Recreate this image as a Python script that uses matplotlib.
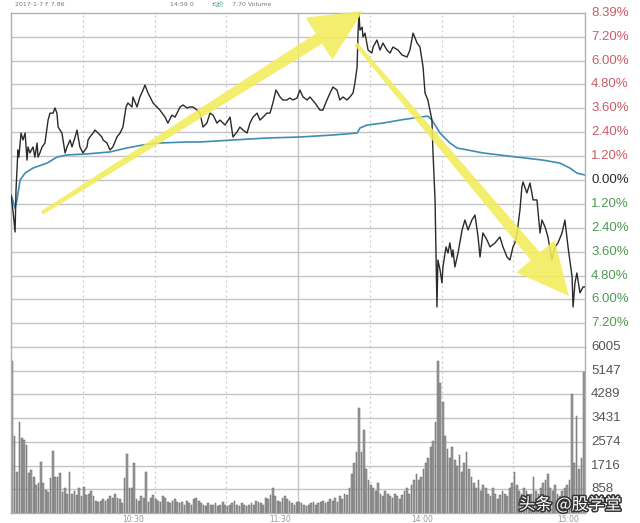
import matplotlib
matplotlib.use("Agg")
import matplotlib.pyplot as plt
import matplotlib.patheffects as pe
from matplotlib.patches import Polygon
import numpy as np

# ---------------- data ----------------
price_t = [0, 0.8, 1.7, 2.1, 2.9, 3.3, 4.2, 5.0, 5.9, 6.7,
           7.1, 7.9, 9.2, 10.0, 10.9, 11.3, 12.1, 13.0, 14.2, 15.5,
           16.3, 17.6, 18.4, 19.2, 19.7, 21.3, 22.6, 23.4, 24.7, 25.5,
           26.8, 27.6, 28.8, 30.1, 31.8, 32.2, 33.0, 34.3, 35.1, 36.4,
           38.0, 38.5, 40.1, 41.4, 42.6, 44.3, 45.6, 46.8, 48.1, 48.9,
           50.6, 51.0, 52.7, 53.9, 55.2, 56.0, 57.3, 59.4, 61.0, 62.3,
           64.4, 65.6, 67.3, 68.6, 70.7, 71.9, 73.6, 74.8, 76.1, 77.8,
           79.0, 80.3, 81.9, 83.2, 84.5, 86.1, 87.4, 89.5, 91.6, 92.8,
           94.5, 95.7, 97.0, 98.7, 99.9, 101.2, 102.9, 104.1, 105.4, 107.0,
           108.3, 109.5, 110.8, 112.5, 113.7, 115.4, 116.6, 117.9, 119.6, 120.8,
           122.1, 123.8, 125.0, 127.1, 129.2, 130.4, 132.1, 133.4, 134.6, 136.3,
           137.5, 138.8, 140.5, 141.7, 143.0, 143.8, 144.7, 145.1, 145.5, 145.9,
           146.8, 147.2, 148.0, 149.3, 150.9, 151.4, 153.0, 154.3, 155.5, 157.2,
           158.5, 159.7, 161.8, 163.5, 165.6, 166.8, 168.1, 169.8, 171.0, 172.3,
           173.1, 174.3, 176.0, 176.4, 177.3, 178.1, 178.5, 179.4, 180.2, 180.6,
           181.9, 182.7, 183.5, 184.4, 184.8, 185.6, 186.9, 188.6, 189.8, 191.1,
           192.7, 194.0, 195.3, 196.1, 197.3, 199.0, 200.3, 202.4, 204.4, 205.7,
           207.4, 208.6, 209.9, 210.7, 211.6, 212.8, 213.6, 214.1, 215.7, 217.0,
           218.3, 219.9, 221.2, 222.0, 223.3, 224.5, 226.2, 227.5, 228.7, 230.4,
           231.6, 232.9, 234.6, 235.0, 235.8, 236.6, 237.9, 239.2, 240.0]

price_pct = [-0.75, -1.51, -2.61, -0.50, 1.51, 1.15, 2.36, 2.01, 2.36, 1.00,
             1.66, 1.36, 1.66, 1.15, 1.86, 1.15, 1.36, 1.66, 1.86, 3.01,
             3.36, 3.36, 3.62, 3.36, 2.66, 2.36, 1.36, 1.66, 2.01, 1.66,
             2.16, 2.51, 1.66, 1.36, 1.66, 2.01, 2.16, 2.36, 2.51, 2.36,
             2.16, 2.01, 1.86, 1.51, 1.66, 2.16, 2.36, 2.66, 3.67, 3.87,
             3.67, 4.17, 3.67, 4.17, 4.52, 4.77, 4.37, 3.87, 3.67, 3.51,
             3.16, 2.86, 3.26, 3.16, 3.67, 3.77, 3.62, 3.67, 3.67, 3.51,
             3.36, 2.66, 2.86, 3.36, 3.26, 2.86, 3.01, 2.76, 3.16, 2.16,
             2.41, 2.66, 2.51, 2.36, 2.86, 3.16, 3.36, 3.01, 3.16, 3.36,
             3.36, 3.87, 4.52, 4.17, 4.02, 4.02, 4.12, 4.02, 4.12, 4.52,
             4.17, 4.02, 4.17, 3.87, 3.51, 3.51, 4.02, 4.37, 4.67, 4.52,
             4.02, 4.17, 4.02, 4.17, 4.37, 4.87, 5.67, 7.38, 8.39, 7.53,
             7.68, 7.18, 7.38, 6.53, 6.38, 6.68, 7.03, 6.53, 6.88, 6.53,
             6.38, 6.68, 6.53, 6.28, 6.18, 6.53, 7.38, 6.88, 6.68, 5.67,
             4.37, 4.02, 3.01, 1.51, -1.00, -6.38, -4.02, -4.52, -5.17, -4.37,
             -3.36, -3.67, -3.16, -3.87, -3.51, -4.37, -3.67, -2.51, -2.01, -2.51,
             -2.01, -1.76, -2.86, -3.87, -2.66, -3.01, -3.36, -3.16, -2.86, -3.36,
             -3.87, -4.02, -3.36, -3.16, -2.66, -1.51, -0.35, -0.10, -0.65, -0.15,
             -1.00, -1.00, -2.66, -2.01, -2.36, -2.86, -4.02, -3.36, -3.16, -2.66,
             -2.01, -3.36, -4.87, -6.38, -5.17, -4.67, -5.67, -5.37, -5.37]

avg_t = [0.4, 1.7, 2.5, 3.8, 5.9, 9.2, 15.1, 19.2, 23.4, 31.8,
         41.4, 48.5, 55.2, 62.3, 73.6, 79.0, 92.8, 107.0, 120.8, 134.6,
         144.7, 145.9, 148.8, 155.5, 162.6, 171.0, 174.3, 176.0, 179.4, 183.5,
         186.5, 197.3, 211.6, 222.4, 229.5, 233.7, 236.6, 240.0]
avg_pct = [-0.85, -1.41, -1.00, 0.00, 0.35, 0.60, 0.85, 1.15, 1.26, 1.31,
           1.41, 1.61, 1.76, 1.86, 1.91, 1.91, 2.01, 2.11, 2.16, 2.26,
           2.36, 2.61, 2.76, 2.86, 3.01, 3.16, 3.21, 3.01, 2.36, 1.86,
           1.61, 1.36, 1.15, 1.00, 0.85, 0.60, 0.35, 0.25]

volume = [5500, 2800, 1500, 3300, 2700, 2650, 2450, 1450, 1550, 1300,
          1000, 1100, 1850, 1100, 850, 750, 1250, 2250, 1300, 1300,
          1450, 750, 900, 700, 1480, 700, 800, 650, 900, 600,
          950, 650, 700, 800, 600, 450, 400, 420, 500, 450,
          500, 600, 550, 700, 550, 500, 350, 1250, 2150, 900,
          900, 1800, 500, 450, 600, 550, 1470, 400, 550, 650,
          500, 450, 400, 600, 550, 400, 350, 450, 500, 400,
          350, 400, 300, 450, 350, 300, 500, 550, 450, 350,
          300, 250, 350, 300, 280, 350, 250, 300, 400, 300,
          250, 300, 350, 450, 300, 250, 350, 300, 250, 300,
          350, 300, 450, 400, 350, 300, 550, 500, 650, 900,
          600, 450, 400, 550, 600, 500, 450, 350, 300, 400,
          400, 350, 300, 250, 300, 350, 400, 300, 350, 400,
          450, 350, 400, 500, 450, 550, 400, 600, 500, 700,
          650, 900, 1400, 1800, 2200, 3800, 2200, 3000, 1600, 1200,
          1000, 900, 800, 1100, 700, 600, 800, 700, 600, 550,
          700, 600, 500, 650, 800, 900, 700, 1000, 1200, 1400,
          1200, 1300, 1600, 1800, 2000, 2400, 2600, 3300, 5500, 4700,
          4000, 2800, 2300, 2000, 2400, 1900, 1700, 2100, 1500, 1800,
          2200, 1600, 1300, 1100, 900, 1200, 800, 1000, 900, 700,
          600, 900, 700, 500, 650, 800, 700, 600, 900, 1100,
          1500, 1000, 800, 700, 900, 800, 600, 700, 1300, 800,
          700, 900, 1100, 1200, 1400, 900, 800, 1000, 700, 600,
          800, 900, 1000, 1200, 4300, 1800, 3500, 1600, 2000, 5100]

pct_ticks = [8.39, 7.20, 6.00, 4.80, 3.60, 2.40, 1.20, 0.00,
             -1.20, -2.40, -3.60, -4.80, -6.00, -7.20]
pct_labels = ["8.39%", "7.20%", "6.00%", "4.80%", "3.60%", "2.40%", "1.20%", "0.00%",
              "1.20%", "2.40%", "3.60%", "4.80%", "6.00%", "7.20%"]
vol_ticks = [858, 1716, 2574, 3431, 4289, 5147, 6005]
vol_labels = ["858", "1716", "2574", "3431", "4289", "5147", "6005"]
time_labels = ["10:30", "11:30", "14:00", "15:00"]

# ---------------- figure ----------------
W, H = 640, 523
fig = plt.figure(figsize=(6.4, 5.23), dpi=100)
fig.patch.set_facecolor("white")

def rect(x0, y0, x1, y1):
    return [x0 / W, 1 - y1 / H, (x1 - x0) / W, (y1 - y0) / H]

axp = fig.add_axes(rect(11, 13, 585, 347))
axv = fig.add_axes(rect(11, 347, 585, 513))

grid_c = "#c4c4c4"
for ax in (axp, axv):
    ax.set_xlim(0, 240)
    ax.set_xticks([])
    ax.set_yticks([])
    for s in ax.spines.values():
        s.set_color("#b0b0b0")
        s.set_linewidth(1.0)
    for m in (30, 60, 90, 150, 180, 210):
        ax.axvline(m, color="#c8c8c8", lw=0.9, ls=(0, (1.5, 2.5)), zorder=0)
    ax.axvline(120, color="#c4c4c4", lw=1.0, zorder=0)

axv.spines["top"].set_visible(False)

# price panel
axp.set_ylim(-8.39, 8.39)
for v in pct_ticks[1:]:
    axp.axhline(v, color=grid_c, lw=1.0, zorder=0)
axp.plot(avg_t, avg_pct, color="#3e8db3", lw=1.2, zorder=2)
axp.plot(price_t, price_pct, color="#2a2a2a", lw=1.0, zorder=3)

tr = axp.get_yaxis_transform()
for v, lab in zip(pct_ticks, pct_labels):
    if v > 0:
        c = "#cf5b66"
    elif v < 0:
        c = "#4f9a55"
    else:
        c = "#2a2a2a"
    axp.text(1.0 + 6 / 574, v, lab, transform=tr, color=c, fontsize=9.5,
             family="Liberation Sans", va="center", ha="left", clip_on=False)

# volume panel
axv.set_ylim(0, 6005)
for v in vol_ticks:
    axv.axhline(v, color=grid_c, lw=1.0, zorder=0)
axv.bar(np.arange(len(volume)) + 0.5, volume, width=0.72, color="#9c9c9c",
        edgecolor="#666666", linewidth=0.35, zorder=2)
trv = axv.get_yaxis_transform()
for v, lab in zip(vol_ticks, vol_labels):
    axv.text(1.0 + 6 / 574, v, lab, transform=trv, color="#555555", fontsize=9.5,
             family="Liberation Sans", va="center", ha="left", clip_on=False)

# header (tiny, blurry in the original)
fig.text(15 / W, 1 - 5 / H, "2017-1-7 F 7.86", fontsize=4.5, color="#777777", va="center")
fig.text(170 / W, 1 - 5 / H, "14:59 0", fontsize=4.5, color="#777777", va="center")
fig.text(212 / W, 1 - 5 / H, "均价", fontsize=4.5, color="#3aa07a", va="center",
         family=["Noto Sans CJK SC", "DejaVu Sans"])
fig.text(232 / W, 1 - 5 / H, "7.70 Volume", fontsize=4.5, color="#777777", va="center")

# bottom time labels (small, at the lower edge)
for xpix, lab in zip([133, 280, 422, 568], time_labels):
    fig.text(xpix / W, 1 - 515 / H, lab, fontsize=5.5, color="#999999",
             ha="center", va="top")

# yellow arrows
def arrow(x0, y0, x1, y1, w0=4, w1=12, hw=50, hl=52, color="#f3ec5a"):
    p0 = np.array([x0, y0], float)
    p1 = np.array([x1, y1], float)
    d = p1 - p0
    L = np.hypot(*d)
    u = d / L
    n = np.array([-u[1], u[0]])
    base = p1 - u * hl
    pts = [p0 + n * w0 / 2, base + n * w1 / 2, base + n * hw / 2, p1,
           base - n * hw / 2, base - n * w1 / 2, p0 - n * w0 / 2]
    pts = [(px / W, 1 - py / H) for px, py in pts]
    fig.add_artist(Polygon(pts, closed=True, transform=fig.transFigure,
                           facecolor=color, edgecolor="none", alpha=0.88, zorder=10))

arrow(42, 213, 363, 11)
arrow(356, 44, 569, 296)

# watermark
fig.text(570 / W, 1 - 505 / H, "头条 @股学堂", fontsize=12, color="white",
         ha="center", va="center", family=["Noto Sans CJK SC", "DejaVu Sans"],
         path_effects=[pe.withStroke(linewidth=2.2, foreground="#333333")], zorder=20)

fig.savefig("out.png", dpi=100)
